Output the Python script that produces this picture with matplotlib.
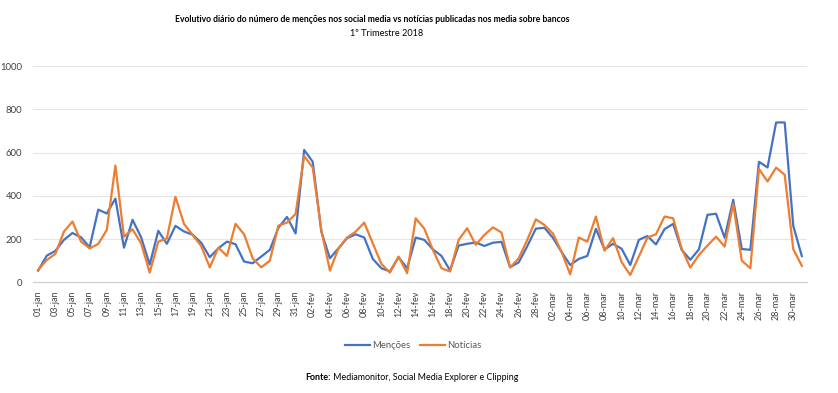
import matplotlib
matplotlib.use("Agg")
import matplotlib.pyplot as plt
import pandas as pd

plt.rcParams['font.family'] = ['Lato', 'DejaVu Sans']

month_abbr = {1: 'jan', 2: 'fev', 3: 'mar'}
dates = pd.date_range('2018-01-01', '2018-03-31', freq='D')
day_labels = [f"{d.day:02d}-{month_abbr[d.month]}" for d in dates]

mencoes = [54, 123, 145, 196, 228, 208, 162, 336, 318, 387,
           160, 289, 208, 82, 238, 178, 261, 235, 220, 183,
           116, 157, 188, 176, 96, 88, 119, 150, 252, 302,
           226, 612, 557, 234, 111, 157, 204, 222, 207, 108,
           65, 50, 116, 65, 207, 196, 152, 122, 55, 170,
           178, 184, 168, 183, 187, 70, 92, 167, 248, 252,
           205, 140, 80, 108, 122, 247, 152, 178, 155, 80,
           196, 214, 175, 246, 270, 150, 104, 152, 312, 317,
           206, 381, 154, 150, 557, 531, 739, 739, 261, 121]

noticias = [57, 103, 131, 234, 281, 188, 157, 177, 242, 540,
            211, 245, 180, 45, 188, 203, 395, 270, 219, 168,
            69, 160, 122, 270, 222, 111, 69, 100, 262, 276,
            316, 584, 530, 242, 54, 157, 207, 234, 276, 180,
            85, 45, 119, 42, 296, 248, 150, 65, 50, 196,
            250, 173, 219, 254, 230, 68, 111, 196, 291, 265,
            225, 140, 37, 207, 188, 304, 146, 204, 93, 34,
            119, 207, 222, 304, 296, 155, 68, 126, 170, 211,
            165, 362, 100, 65, 524, 466, 530, 497, 153, 76]

y_ticks = [0, 200, 400, 600, 800, 1000]

title_line1 = "Evolutivo diário do número de menções nos social media vs notícias publicadas nos media sobre bancos"
title_line2 = "1º Trimestre 2018"
series_names = ["Menções", "Notícias"]
source_bold = "Fonte:"
source_text = " Mediamonitor, Social Media Explorer e Clipping"

W, H = 838, 393
fig = plt.figure(figsize=(W / 100, H / 100), dpi=100)
ax = fig.add_axes([33 / W, 1 - 282.3 / H, (807 - 33) / W, (282.3 - 66) / H])

x = list(range(len(day_labels)))
blue = '#4472C4'
orange = '#ED7D31'
ax.plot(x, mencoes, color=blue, lw=1.6, label=series_names[0], solid_joinstyle='round', zorder=3)
ax.plot(x, noticias, color=orange, lw=1.6, label=series_names[1], solid_joinstyle='round', zorder=3)

ax.set_xlim(-0.6, len(x) - 0.4)
ax.set_ylim(0, 1000)
ax.set_yticks(y_ticks)
ax.set_yticklabels([str(v) for v in y_ticks], fontsize=6.8, color='#404040')
ax.set_xticks(x[::2])
ax.set_xticklabels(day_labels[::2], rotation=90, fontsize=6.5, color='#404040')
ax.tick_params(axis='both', length=0)
ax.tick_params(axis='y', pad=8)
ax.tick_params(axis='x', pad=6)
ax.grid(axis='y', color='#e6e6e6', lw=0.8)
ax.set_axisbelow(True)
for s in ['top', 'right', 'left']:
    ax.spines[s].set_visible(False)
ax.spines['bottom'].set_color('#d0d0d0')
ax.spines['bottom'].set_linewidth(0.9)

fig.text(372 / W, 1 - 19 / H, title_line1, ha='center', va='center', fontsize=6.2, fontweight='bold', color='#000000')
fig.text(387 / W, 1 - 33 / H, title_line2, ha='center', va='center', fontsize=6.6, color='#000000')

leg = fig.legend(loc='center', bbox_to_anchor=(413 / W, 1 - 346 / H), ncol=2, frameon=False,
                 fontsize=6.8, handlelength=2.7, columnspacing=1.0, handletextpad=0.2,
                 labelcolor='#595959')

renderer = fig.canvas.get_renderer()
t1 = fig.text(0, 1 - 377 / H, source_bold, ha='left', va='center', fontsize=6.4, fontweight='bold')
t2 = fig.text(0, 1 - 377 / H, source_text, ha='left', va='center', fontsize=6.4)
w1 = t1.get_window_extent(renderer).width
w2 = t2.get_window_extent(renderer).width
start = 412 - (w1 + w2) / 2
t1.set_x(start / W)
t2.set_x((start + w1) / W)

fig.savefig('out.png', dpi=100, facecolor='white')
